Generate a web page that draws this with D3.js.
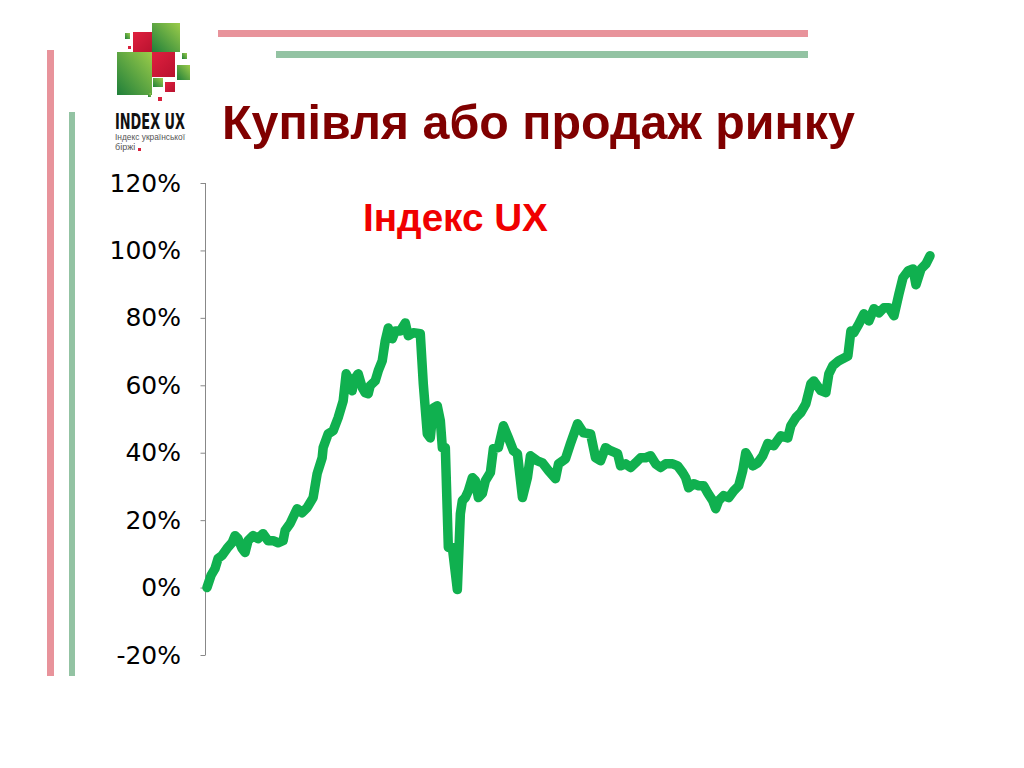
<!DOCTYPE html>
<html>
<head>
<meta charset="utf-8">
<script src="https://cdn.jsdelivr.net/npm/d3@7"></script>
<style>
html,body{margin:0;padding:0;background:#fff;}
svg{display:block;}
</style>
</head>
<body>
<svg id="chart" width="1024" height="768"></svg>
<script>
// ---- data ----
const title = "Купівля або продаж ринку";
const seriesName = "Індекс UX";
const yTicks = [-20, 0, 20, 40, 60, 80, 100, 120];
// time position of each observation (arbitrary day units along the period)
const period = [0,4,8,11,15,20,25,28,31,35,38,41,46,51,56,61,66,71,76,78,83,90,95,100,106,110,115,116,121,126,131,136,139,141,145,146,151,155,158,161,163,168,171,175,178,181,185,188,193,198,201,206,213,216,220,223,226,230,233,235,238,241,245,250,253,255,258,261,265,268,271,275,278,283,286,291,296,301,306,310,315,320,323,330,335,341,348,351,358,363,365,370,376,383,388,393,398,403,410,413,418,423,428,433,438,443,448,453,458,465,470,475,478,481,486,491,496,500,505,508,511,516,521,526,531,535,538,541,545,550,555,560,566,573,580,583,588,593,598,603,606,613,618,621,625,631,640,643,646,651,656,661,666,671,676,681,686,691,695,700,705,708,713,718,722];
const indexUX = [0,3.6,5.6,8.6,9.5,11.6,13.3,15.4,14.5,11.6,10.4,13.9,15.4,14.5,16.0,13.9,13.9,13.3,13.9,16.9,19.0,23.4,22.2,23.7,26.7,33.8,38.5,41.5,45.6,46.5,50.4,55.4,63.4,62.2,58.4,61.3,63.4,59.3,57.8,57.5,59.9,61.3,64.3,67.3,73.2,77.0,73.8,76.1,76.1,78.5,74.7,75.6,75.3,60.4,45.6,44.4,53.3,53.9,49.5,41.5,41.5,11.9,11.9,-0.6,21.9,25.8,26.7,28.7,32.6,31.7,26.7,27.9,31.7,34.1,41.2,41.5,48.0,44.4,40.6,39.7,26.7,32.6,39.1,37.6,37.0,34.7,32.3,36.7,38.2,42.7,44.4,48.6,45.9,45.6,38.5,37.6,41.5,40.6,39.7,36.1,36.7,35.6,37.0,38.5,38.5,39.1,36.7,35.6,36.7,36.7,36.1,34.1,32.6,29.6,30.8,30.2,30.2,28.1,25.8,23.4,25.8,27.3,26.7,28.7,30.2,34.7,40.0,38.5,36.1,37.0,39.1,42.7,42.1,45.0,44.4,48.0,50.4,51.9,54.5,60.4,61.3,58.4,57.8,63.4,65.8,67.3,68.7,76.1,75.6,78.2,81.2,79.1,82.7,81.5,83.0,83.0,80.6,87.1,91.9,93.9,94.5,89.8,94.5,96.0,98.4];
const points = period.map((p, i) => ({p, v: indexUX[i]}));

const svg = d3.select("#chart");

// ---- slide decoration ----
const deco = svg.append("g");
deco.append("rect").attr("x",218).attr("y",30).attr("width",590).attr("height",7).attr("fill","#e8939b");
deco.append("rect").attr("x",276).attr("y",51).attr("width",532).attr("height",7).attr("fill","#93c3a3");
deco.append("rect").attr("x",47).attr("y",50).attr("width",7).attr("height",626).attr("fill","#e8939b");
deco.append("rect").attr("x",69).attr("y",112).attr("width",6).attr("height",564).attr("fill","#93c3a3");

// logo
const defs = svg.append("defs");
const gg = defs.append("linearGradient").attr("id","gGreen").attr("x1","0").attr("y1","1").attr("x2","1").attr("y2","0");
gg.append("stop").attr("offset","0").attr("stop-color","#1f7f3a");
gg.append("stop").attr("offset","1").attr("stop-color","#9ccc4a");
const gr = defs.append("linearGradient").attr("id","gRed").attr("x1","0").attr("y1","0").attr("x2","1").attr("y2","1");
gr.append("stop").attr("offset","0").attr("stop-color","#e0203f");
gr.append("stop").attr("offset","1").attr("stop-color","#b8122f");
const logo = svg.append("g");
const sq = [
  [125,33,5,6,"url(#gGreen)"],[128,46,3,3,"#d8203c"],[133,32,20,20,"url(#gRed)"],
  [152,23,28,29,"url(#gGreen)"],[117,52,35,43,"url(#gGreen)"],[152,52,23,25,"url(#gRed)"],
  [182,53,5,6,"url(#gGreen)"],[177,65,13,15,"url(#gGreen)"],[153,78,10,9,"url(#gGreen)"],
  [165,82,10,10,"url(#gRed)"],[148,93,3,4,"url(#gGreen)"],[158,97,4,4,"#d8203c"]
];
sq.forEach(s => logo.append("rect").attr("x",s[0]).attr("y",s[1]).attr("width",s[2]).attr("height",s[3]).attr("fill",s[4]));
logo.append("text").attr("x",115).attr("y",129).attr("font-family","'Liberation Sans Narrow','DejaVu Sans Condensed',sans-serif")
  .attr("font-weight","bold").attr("font-size",22).attr("fill","#111").attr("textLength",70).attr("lengthAdjust","spacingAndGlyphs").text("INDEX UX");
logo.append("text").attr("x",115).attr("y",140).attr("font-family","'Liberation Sans Narrow',sans-serif")
  .attr("font-size",9).attr("fill","#555").attr("textLength",70).attr("lengthAdjust","spacingAndGlyphs").text("Індекс української");
logo.append("text").attr("x",115).attr("y",150).attr("font-family","'Liberation Sans Narrow',sans-serif")
  .attr("font-size",9).attr("fill","#555").text("біржі");
logo.append("rect").attr("x",138).attr("y",148).attr("width",3).attr("height",3).attr("fill","#d8203c");

// title
const t = svg.append("text").attr("x",222).attr("y",139)
  .attr("font-family","'Liberation Sans',Arial,sans-serif").attr("font-weight","bold")
  .attr("font-size",39).attr("fill","#800000").text(title);
{ const w = t.node().getComputedTextLength(); t.attr("font-size", 39*633/w); }

// ---- chart ----
const y = d3.scaleLinear().domain([-20,120]).range([655, 183]);
const x = d3.scaleLinear().domain([0, d3.max(period)]).range([207, 930]);

const axis = d3.axisLeft(y).tickValues(yTicks).tickSize(5).tickFormat(d => d + "%");
const ag = svg.append("g").attr("transform","translate(205,0)").call(axis);
ag.select(".domain").attr("stroke","#888").attr("d","M0.5,183V655");
ag.selectAll(".tick line").attr("stroke","#888").attr("x1",0.5).attr("x2",-4.5);
ag.selectAll(".tick text").attr("x",-24).attr("font-family","'DejaVu Sans',Verdana,sans-serif")
  .attr("font-size",25).attr("fill","#000");

svg.append("path").datum(points)
  .attr("fill","none").attr("stroke","#10b04f").attr("stroke-width",9.5)
  .attr("stroke-linejoin","round").attr("stroke-linecap","round")
  .attr("d", d3.line().x(d => x(d.p)).y(d => y(d.v)));

const st = svg.append("text").attr("x",363).attr("y",231)
  .attr("font-family","'Liberation Sans',Arial,sans-serif").attr("font-weight","bold")
  .attr("font-size",27).attr("fill","#f00000").text(seriesName);
{ const w = st.node().getComputedTextLength(); st.attr("font-size", 27*185/w); }
</script>
</body>
</html>
